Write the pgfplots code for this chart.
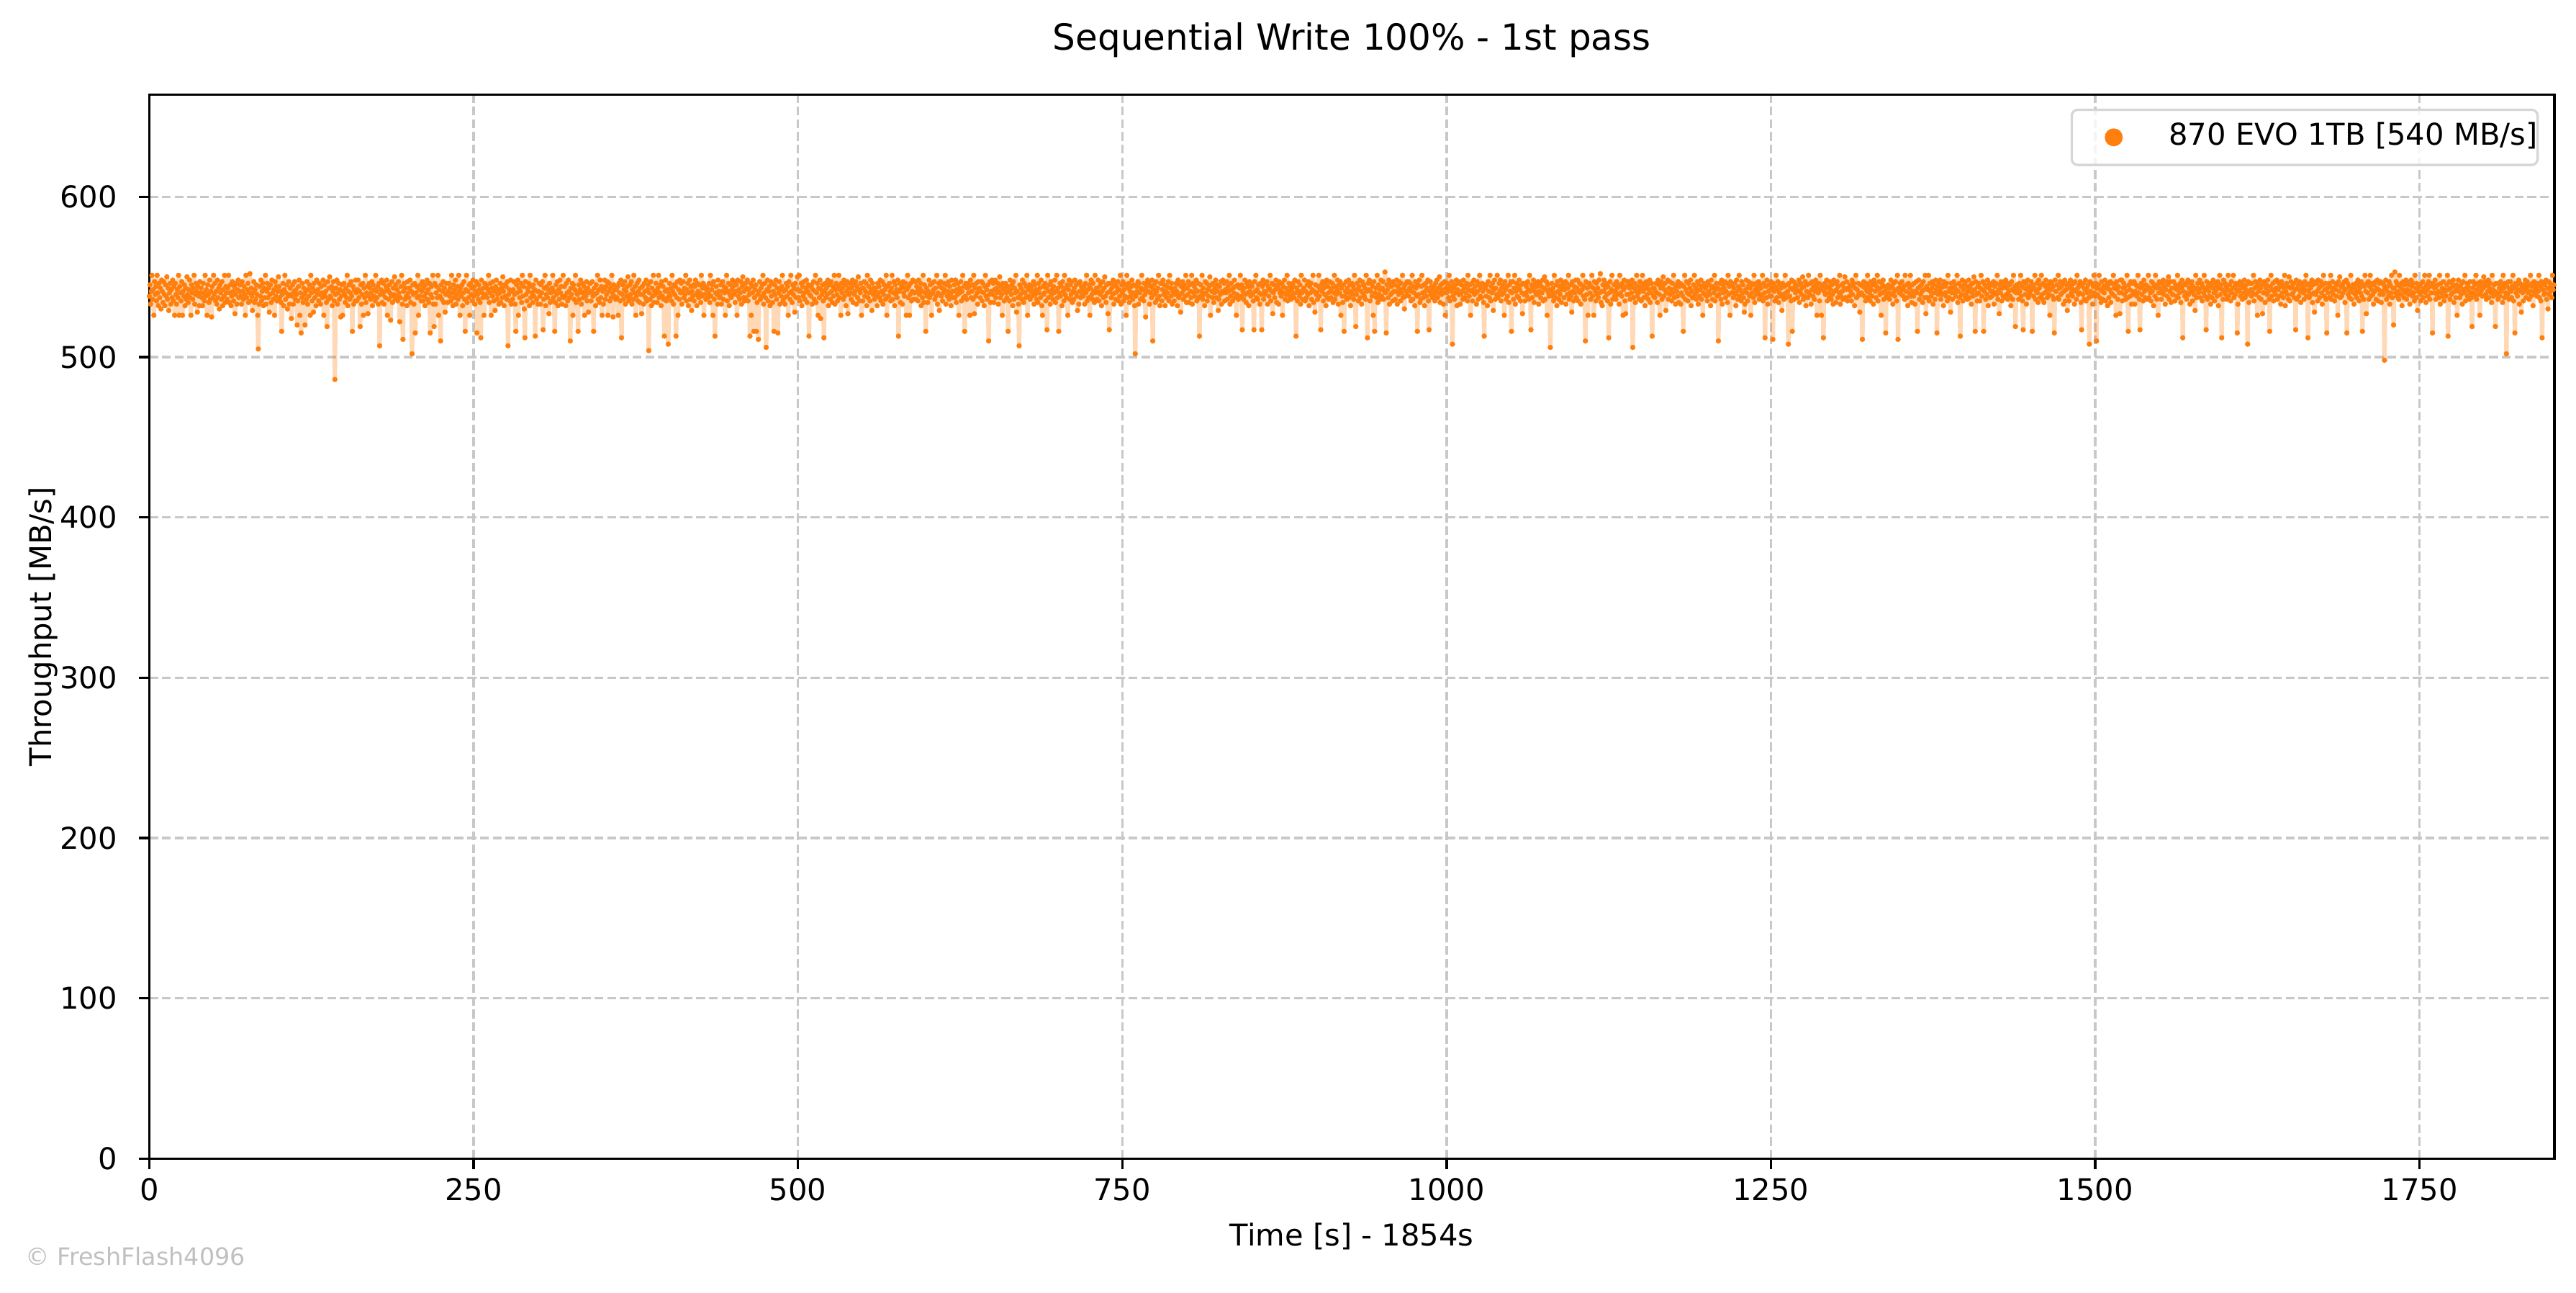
\documentclass[border=0pt]{standalone}
\usepackage{fontspec}
\setmainfont{DejaVu Sans}
\usepackage{pgfplots}
\usepackage{pgfplotstable}
\pgfplotsset{compat=1.18}
\definecolor{mplorange}{HTML}{FF7F0E}
\definecolor{gridgray}{HTML}{C8C8C8}
\definecolor{legedge}{HTML}{D6D6D6}
\definecolor{wmgray}{HTML}{C0C0C0}
\pgfplotstableread[header=false,row sep=\\]{
538\\545\\533\\541\\551\\536\\542\\526\\547\\539\\544\\535\\551\\540\\532\\546\\537\\543\\530\\548\\
541\\534\\547\\539\\532\\545\\538\\550\\536\\543\\529\\540\\546\\533\\542\\537\\548\\535\\544\\526\\
546\\539\\533\\542\\537\\551\\526\\544\\540\\535\\547\\526\\541\\538\\545\\532\\543\\536\\550\\539\\
534\\542\\548\\537\\526\\545\\540\\536\\543\\551\\533\\539\\546\\541\\528\\544\\538\\532\\547\\540\\
543\\537\\532\\546\\540\\535\\551\\538\\542\\526\\545\\539\\534\\548\\536\\541\\525\\544\\537\\551\\
539\\546\\535\\541\\533\\548\\537\\543\\530\\545\\540\\536\\547\\532\\542\\538\\551\\534\\544\\540\\
536\\543\\551\\534\\540\\545\\532\\538\\547\\541\\535\\544\\527\\539\\546\\533\\542\\548\\537\\541\\
545\\538\\533\\547\\541\\536\\544\\539\\526\\551\\537\\542\\546\\534\\540\\552\\535\\543\\538\\529\\
540\\547\\534\\542\\536\\545\\539\\526\\505\\533\\544\\538\\548\\535\\541\\546\\532\\543\\537\\551\\
533\\541\\546\\537\\543\\528\\539\\545\\534\\548\\540\\536\\542\\526\\547\\538\\544\\535\\541\\550\\
544\\537\\541\\534\\516\\539\\546\\532\\542\\551\\536\\540\\545\\530\\538\\547\\533\\543\\539\\524\\
538\\545\\533\\541\\547\\536\\542\\539\\520\\535\\544\\548\\526\\540\\515\\537\\546\\534\\543\\539\\
520\\541\\536\\547\\533\\542\\538\\545\\526\\551\\540\\535\\543\\528\\546\\537\\541\\532\\548\\539\\
542\\535\\546\\539\\533\\544\\540\\537\\548\\526\\545\\538\\541\\534\\519\\547\\536\\543\\550\\538\\
537\\544\\532\\541\\547\\535\\486\\539\\543\\548\\533\\540\\546\\536\\542\\525\\538\\545\\526\\541\\
546\\539\\534\\543\\537\\551\\532\\541\\545\\536\\540\\547\\538\\516\\544\\533\\542\\535\\548\\540\\
535\\542\\548\\537\\541\\519\\545\\533\\539\\546\\526\\543\\537\\551\\534\\540\\544\\527\\538\\546\\
543\\536\\540\\547\\532\\545\\538\\542\\535\\551\\541\\537\\544\\533\\546\\507\\539\\542\\548\\534\\
539\\546\\533\\541\\537\\544\\548\\526\\542\\536\\545\\540\\523\\538\\547\\534\\543\\539\\550\\536\\
545\\538\\542\\535\\547\\540\\522\\537\\544\\551\\533\\511\\541\\546\\536\\543\\538\\532\\547\\540\\
537\\543\\548\\534\\541\\502\\545\\539\\533\\546\\515\\540\\544\\537\\551\\526\\542\\538\\545\\535\\
541\\547\\535\\543\\538\\532\\545\\540\\548\\536\\542\\534\\546\\515\\539\\544\\537\\551\\533\\519\\
546\\533\\540\\544\\537\\551\\526\\542\\538\\510\\545\\536\\541\\547\\534\\543\\528\\539\\546\\540\\
534\\541\\546\\538\\543\\535\\551\\540\\532\\545\\537\\542\\548\\533\\539\\544\\536\\551\\541\\526\\
543\\538\\545\\532\\540\\547\\536\\516\\542\\551\\534\\541\\537\\545\\526\\546\\539\\543\\535\\548\\
538\\544\\533\\541\\547\\515\\539\\536\\545\\542\\534\\512\\548\\540\\537\\543\\526\\546\\539\\544\\
545\\537\\542\\551\\534\\540\\546\\526\\543\\538\\547\\535\\541\\529\\544\\548\\536\\539\\542\\533\\
540\\546\\534\\543\\537\\550\\541\\532\\545\\538\\544\\536\\547\\507\\539\\542\\535\\548\\533\\541\\
536\\542\\547\\539\\533\\516\\545\\540\\548\\526\\543\\537\\541\\546\\534\\551\\538\\544\\530\\512\\
547\\539\\535\\543\\541\\546\\532\\551\\537\\544\\540\\534\\545\\538\\542\\513\\548\\536\\541\\533\\
541\\546\\538\\533\\545\\540\\547\\517\\536\\543\\551\\532\\539\\544\\537\\542\\527\\546\\534\\540\\
535\\543\\551\\537\\541\\516\\534\\545\\539\\547\\532\\542\\536\\548\\540\\544\\533\\538\\551\\537\\
544\\538\\532\\546\\540\\535\\548\\541\\537\\510\\543\\539\\546\\526\\545\\536\\542\\551\\534\\540\\
539\\516\\545\\536\\542\\548\\533\\540\\546\\537\\544\\526\\541\\538\\547\\535\\543\\528\\540\\546\\
546\\535\\541\\547\\538\\516\\543\\539\\532\\545\\540\\551\\536\\542\\534\\548\\537\\544\\526\\541\\
533\\542\\548\\536\\544\\539\\547\\526\\541\\546\\535\\543\\537\\551\\540\\525\\545\\538\\542\\536\\
542\\537\\544\\526\\546\\540\\535\\548\\512\\539\\545\\536\\542\\547\\533\\541\\538\\544\\550\\535\\
537\\545\\539\\547\\533\\542\\536\\551\\540\\544\\526\\538\\546\\535\\541\\548\\534\\543\\539\\527\\
544\\539\\533\\546\\541\\537\\548\\535\\542\\545\\504\\540\\536\\547\\532\\543\\538\\551\\534\\541\\
539\\546\\541\\534\\543\\551\\537\\540\\545\\532\\547\\538\\544\\536\\513\\541\\548\\535\\542\\537\\
508\\540\\546\\538\\543\\535\\551\\541\\533\\545\\539\\544\\513\\537\\547\\526\\542\\536\\548\\540\\
546\\533\\541\\547\\537\\543\\539\\551\\535\\542\\546\\532\\540\\548\\536\\544\\529\\541\\538\\545\\
535\\544\\548\\539\\532\\546\\541\\537\\545\\540\\534\\551\\538\\543\\546\\526\\539\\544\\536\\542\\
543\\537\\540\\546\\534\\551\\538\\542\\545\\526\\547\\536\\513\\540\\544\\539\\533\\548\\541\\537\\
538\\545\\533\\541\\547\\536\\544\\540\\526\\543\\551\\535\\541\\546\\532\\539\\545\\537\\542\\548\\
544\\539\\547\\534\\541\\545\\526\\548\\538\\542\\536\\540\\547\\533\\544\\550\\537\\541\\535\\546\\
537\\543\\548\\535\\542\\539\\513\\546\\526\\544\\540\\548\\516\\537\\542\\545\\516\\534\\539\\511\\
541\\547\\536\\543\\538\\545\\551\\533\\540\\546\\537\\506\\542\\548\\535\\541\\544\\532\\547\\538\\
546\\534\\541\\516\\545\\539\\548\\536\\543\\515\\540\\547\\533\\542\\538\\544\\551\\535\\541\\537\\
533\\542\\546\\538\\544\\526\\547\\540\\536\\551\\541\\534\\545\\539\\543\\528\\546\\537\\542\\550\\
542\\537\\551\\535\\541\\546\\532\\544\\538\\547\\540\\536\\543\\548\\534\\541\\545\\513\\539\\544\\
538\\545\\533\\542\\547\\536\\541\\551\\534\\540\\546\\526\\543\\537\\548\\524\\542\\539\\545\\535\\
512\\541\\546\\537\\543\\539\\548\\532\\545\\540\\536\\547\\541\\534\\544\\538\\551\\533\\542\\546\\
539\\535\\544\\551\\537\\542\\526\\546\\540\\543\\536\\548\\538\\545\\532\\541\\547\\527\\543\\539\\
546\\540\\536\\543\\548\\534\\545\\539\\541\\547\\533\\544\\537\\550\\542\\535\\540\\546\\526\\543\\
535\\543\\547\\538\\541\\546\\532\\551\\537\\544\\540\\535\\548\\542\\529\\546\\539\\543\\536\\541\\
543\\538\\532\\546\\540\\544\\537\\548\\535\\541\\547\\533\\539\\545\\542\\536\\551\\526\\544\\538\\
538\\546\\541\\535\\543\\551\\536\\540\\547\\532\\545\\539\\542\\537\\548\\513\\541\\546\\534\\543\\
545\\533\\547\\540\\538\\543\\546\\526\\542\\551\\537\\544\\526\\539\\546\\535\\541\\548\\536\\540\\
540\\547\\536\\544\\541\\535\\548\\539\\543\\546\\532\\541\\537\\551\\534\\545\\540\\516\\543\\538\\
534\\541\\548\\537\\545\\539\\526\\546\\540\\542\\547\\536\\543\\538\\551\\533\\540\\546\\529\\544\\
547\\538\\543\\535\\540\\546\\542\\551\\533\\545\\538\\541\\547\\536\\544\\539\\532\\548\\541\\537\\
541\\545\\537\\548\\534\\542\\539\\546\\526\\543\\540\\547\\535\\541\\551\\537\\544\\516\\538\\546\\
536\\543\\546\\540\\544\\526\\548\\537\\541\\545\\536\\551\\527\\543\\538\\546\\540\\533\\547\\542\\
543\\537\\541\\547\\535\\546\\540\\532\\544\\551\\538\\542\\536\\545\\510\\539\\547\\534\\541\\548\\
539\\546\\534\\542\\548\\537\\543\\540\\546\\533\\541\\550\\537\\544\\539\\526\\546\\542\\535\\543\\
546\\540\\537\\544\\516\\541\\535\\548\\542\\539\\545\\532\\547\\536\\543\\540\\551\\528\\541\\537\\
533\\507\\545\\539\\543\\536\\548\\541\\534\\546\\540\\537\\544\\551\\526\\542\\538\\545\\536\\541\\
544\\538\\541\\547\\533\\545\\539\\542\\536\\551\\534\\546\\540\\543\\537\\548\\532\\526\\544\\539\\
540\\546\\535\\543\\517\\551\\537\\541\\545\\533\\547\\539\\542\\536\\544\\540\\548\\534\\541\\551\\
537\\543\\516\\540\\546\\538\\544\\532\\547\\541\\535\\551\\539\\543\\537\\545\\526\\542\\548\\536\\
545\\539\\547\\534\\541\\536\\543\\548\\540\\545\\538\\529\\546\\533\\541\\547\\537\\544\\539\\542\\
538\\544\\533\\546\\540\\551\\535\\542\\537\\545\\526\\543\\548\\539\\536\\546\\541\\534\\551\\540\\
543\\536\\541\\548\\535\\544\\539\\546\\532\\541\\547\\537\\543\\550\\538\\534\\545\\540\\527\\546\\
517\\541\\546\\537\\543\\539\\548\\533\\545\\540\\536\\544\\541\\547\\535\\542\\538\\551\\533\\545\\
540\\547\\535\\542\\538\\545\\526\\551\\537\\543\\546\\534\\541\\538\\544\\548\\536\\540\\545\\532\\
502\\538\\544\\541\\547\\533\\546\\540\\536\\543\\551\\537\\542\\535\\546\\539\\525\\544\\541\\548\\
541\\546\\533\\540\\544\\537\\548\\510\\542\\545\\539\\534\\547\\541\\536\\543\\551\\538\\532\\546\\
546\\535\\542\\548\\539\\545\\532\\541\\537\\544\\540\\547\\535\\551\\543\\538\\546\\533\\541\\539\\
535\\543\\539\\546\\541\\532\\548\\537\\545\\539\\528\\544\\540\\547\\536\\542\\545\\538\\551\\534\\
543\\539\\547\\534\\545\\541\\537\\551\\533\\546\\540\\544\\538\\542\\548\\535\\541\\546\\537\\513\\
538\\545\\541\\551\\536\\543\\539\\532\\547\\540\\546\\535\\542\\538\\544\\550\\526\\545\\541\\537\\
546\\534\\540\\543\\548\\537\\545\\541\\529\\536\\544\\539\\547\\533\\541\\548\\540\\546\\535\\542\\
540\\547\\536\\544\\541\\551\\533\\538\\546\\542\\535\\543\\540\\548\\537\\544\\526\\539\\545\\536\\
537\\543\\551\\538\\545\\517\\541\\536\\543\\548\\539\\534\\546\\540\\544\\532\\547\\541\\538\\545\\
544\\539\\535\\517\\547\\541\\551\\537\\542\\536\\545\\540\\533\\546\\539\\517\\544\\548\\536\\541\\
539\\546\\541\\547\\533\\544\\538\\543\\551\\535\\541\\546\\527\\540\\545\\537\\542\\548\\534\\543\\
545\\533\\547\\540\\542\\538\\546\\526\\544\\540\\548\\536\\543\\539\\551\\535\\541\\546\\538\\544\\
536\\542\\539\\546\\544\\537\\548\\540\\513\\543\\535\\547\\541\\538\\545\\533\\551\\540\\536\\542\\
543\\548\\535\\541\\537\\545\\539\\547\\532\\544\\540\\546\\536\\542\\551\\534\\541\\528\\545\\539\\
540\\536\\544\\551\\538\\542\\517\\545\\541\\547\\535\\543\\539\\546\\532\\548\\537\\544\\540\\536\\
547\\541\\537\\543\\546\\534\\540\\551\\536\\544\\539\\542\\548\\533\\545\\540\\547\\526\\543\\538\\
534\\545\\516\\538\\541\\547\\536\\543\\540\\548\\537\\545\\532\\541\\546\\539\\544\\536\\551\\542\\
519\\539\\546\\542\\535\\544\\548\\537\\541\\533\\547\\540\\545\\538\\543\\536\\551\\541\\512\\546\\
542\\548\\535\\541\\546\\538\\544\\526\\547\\516\\540\\543\\537\\551\\534\\545\\539\\542\\536\\548\\
538\\543\\547\\536\\541\\553\\540\\515\\545\\542\\537\\548\\533\\546\\539\\544\\540\\535\\547\\541\\
545\\536\\541\\548\\533\\544\\539\\547\\542\\535\\546\\540\\551\\537\\543\\530\\545\\538\\541\\547\\
541\\547\\538\\543\\546\\535\\541\\551\\536\\544\\540\\532\\547\\543\\538\\516\\545\\539\\548\\534\\
536\\544\\551\\540\\537\\545\\532\\541\\546\\538\\543\\548\\535\\517\\541\\547\\539\\544\\537\\542\\
544\\539\\535\\546\\541\\548\\537\\543\\540\\550\\534\\545\\539\\542\\546\\533\\540\\547\\526\\543\\
540\\546\\542\\537\\551\\535\\544\\541\\547\\508\\538\\543\\536\\545\\540\\548\\532\\542\\546\\539\\
547\\533\\539\\545\\541\\536\\548\\543\\537\\544\\540\\546\\535\\551\\542\\538\\545\\526\\541\\546\\
535\\542\\548\\539\\544\\540\\533\\547\\541\\536\\545\\551\\538\\543\\537\\546\\541\\534\\513\\545\\
543\\538\\545\\532\\547\\541\\537\\551\\535\\544\\540\\546\\529\\542\\548\\536\\543\\539\\551\\537\\
538\\546\\541\\548\\535\\543\\539\\545\\540\\526\\547\\542\\536\\544\\538\\551\\534\\545\\541\\547\\
516\\540\\547\\536\\543\\551\\533\\541\\546\\538\\544\\537\\548\\542\\535\\545\\540\\527\\546\\539\\
546\\535\\540\\544\\538\\547\\542\\536\\551\\541\\517\\545\\537\\543\\548\\534\\541\\546\\539\\544\\
539\\547\\533\\541\\546\\537\\544\\540\\548\\535\\543\\550\\536\\542\\547\\526\\545\\540\\538\\542\\
506\\541\\546\\538\\543\\535\\551\\540\\537\\545\\532\\547\\541\\536\\544\\539\\548\\534\\542\\546\\
544\\537\\542\\547\\533\\546\\539\\543\\551\\536\\540\\545\\538\\528\\547\\541\\535\\544\\540\\548\\
537\\543\\548\\535\\541\\546\\540\\533\\545\\542\\551\\538\\544\\536\\510\\547\\539\\543\\526\\546\\
546\\540\\536\\544\\551\\538\\543\\526\\547\\541\\535\\546\\539\\543\\537\\548\\540\\552\\534\\541\\
532\\545\\541\\548\\537\\543\\546\\539\\535\\544\\512\\540\\547\\533\\542\\551\\536\\541\\545\\538\\
541\\536\\547\\543\\539\\545\\533\\551\\540\\544\\538\\546\\526\\542\\548\\535\\527\\544\\539\\547\\
547\\539\\543\\536\\545\\540\\548\\506\\537\\543\\546\\534\\541\\551\\538\\544\\540\\536\\547\\542\\
535\\544\\551\\541\\537\\546\\532\\543\\547\\539\\545\\536\\542\\548\\534\\540\\546\\513\\543\\538\\
543\\537\\541\\546\\540\\534\\548\\545\\539\\526\\543\\547\\536\\544\\550\\538\\542\\546\\529\\540\\
540\\548\\536\\543\\547\\539\\542\\535\\546\\540\\551\\537\\543\\533\\545\\541\\538\\547\\534\\544\\
546\\533\\540\\545\\538\\516\\544\\551\\536\\542\\547\\540\\535\\546\\539\\543\\548\\532\\541\\537\\
537\\545\\551\\539\\543\\536\\541\\547\\533\\545\\538\\542\\548\\536\\544\\526\\540\\546\\539\\543\\
544\\538\\535\\547\\541\\545\\539\\532\\548\\543\\536\\544\\540\\551\\535\\542\\546\\538\\543\\510\\
539\\546\\542\\536\\548\\533\\545\\540\\543\\547\\537\\541\\546\\534\\551\\539\\544\\526\\547\\540\\
545\\540\\537\\543\\546\\539\\532\\548\\541\\536\\544\\551\\538\\542\\535\\547\\540\\545\\537\\528\\
533\\542\\548\\540\\535\\544\\547\\538\\543\\526\\546\\540\\545\\537\\551\\534\\542\\546\\539\\544\\
541\\547\\536\\545\\539\\543\\538\\551\\535\\546\\540\\512\\544\\537\\548\\533\\541\\545\\538\\542\\
547\\538\\543\\511\\546\\541\\535\\544\\551\\537\\542\\547\\534\\540\\545\\538\\543\\529\\546\\539\\
536\\544\\551\\540\\537\\545\\541\\508\\546\\538\\543\\535\\548\\516\\542\\547\\536\\544\\540\\545\\
542\\537\\545\\548\\534\\541\\546\\539\\543\\550\\536\\544\\538\\547\\532\\541\\545\\537\\551\\540\\
539\\546\\533\\542\\547\\538\\544\\536\\541\\548\\545\\526\\543\\540\\546\\535\\551\\542\\526\\544\\
545\\512\\541\\546\\539\\543\\548\\535\\544\\540\\537\\547\\542\\536\\545\\539\\533\\548\\541\\546\\
534\\542\\547\\537\\544\\540\\551\\533\\538\\545\\541\\536\\546\\543\\550\\537\\542\\547\\535\\543\\
543\\538\\545\\541\\535\\548\\539\\544\\546\\532\\543\\551\\537\\542\\538\\546\\540\\528\\545\\539\\
540\\511\\544\\547\\538\\543\\535\\546\\541\\551\\537\\544\\540\\535\\547\\542\\538\\545\\533\\548\\
546\\541\\537\\544\\551\\535\\542\\547\\539\\543\\526\\546\\540\\548\\536\\544\\541\\515\\538\\543\\
537\\545\\540\\536\\543\\548\\539\\544\\533\\546\\541\\538\\547\\542\\535\\551\\511\\543\\540\\546\\
543\\539\\547\\542\\538\\544\\536\\551\\541\\545\\537\\532\\546\\540\\543\\551\\538\\534\\545\\541\\
538\\546\\533\\541\\547\\540\\516\\543\\548\\536\\544\\539\\545\\541\\534\\547\\542\\537\\551\\527\\
544\\537\\542\\551\\535\\546\\541\\538\\543\\547\\533\\545\\540\\536\\548\\542\\515\\544\\539\\546\\
541\\548\\536\\543\\539\\545\\532\\547\\540\\544\\538\\546\\535\\551\\541\\537\\543\\528\\546\\540\\
536\\543\\547\\540\\545\\538\\542\\551\\534\\541\\546\\537\\513\\544\\539\\548\\535\\542\\545\\538\\
547\\539\\544\\536\\541\\548\\537\\543\\545\\533\\540\\546\\538\\550\\542\\516\\547\\539\\535\\544\\
540\\546\\535\\543\\551\\538\\542\\547\\516\\541\\545\\536\\544\\539\\548\\532\\543\\546\\537\\541\\
545\\538\\541\\547\\533\\544\\540\\546\\539\\551\\536\\542\\527\\545\\540\\547\\535\\543\\538\\546\\
537\\544\\548\\539\\543\\536\\546\\541\\545\\538\\532\\547\\542\\536\\551\\541\\544\\519\\540\\545\\
543\\540\\536\\546\\541\\551\\538\\544\\535\\517\\547\\543\\539\\546\\533\\542\\548\\537\\544\\540\\
539\\547\\542\\516\\545\\538\\543\\551\\536\\541\\546\\540\\534\\548\\543\\537\\545\\551\\539\\536\\
546\\534\\540\\544\\548\\541\\537\\545\\543\\539\\526\\547\\542\\546\\538\\544\\536\\515\\548\\541\\
541\\545\\537\\551\\536\\543\\547\\539\\544\\540\\546\\533\\541\\548\\535\\542\\545\\529\\538\\546\\
535\\543\\548\\540\\545\\538\\542\\546\\533\\547\\541\\536\\551\\543\\539\\545\\540\\547\\534\\517\\
544\\539\\546\\536\\542\\548\\535\\543\\540\\545\\537\\508\\547\\541\\538\\546\\533\\544\\551\\540\\
538\\546\\510\\543\\539\\545\\551\\537\\542\\534\\547\\541\\536\\544\\540\\548\\535\\543\\546\\532\\
545\\537\\542\\547\\534\\540\\546\\539\\551\\543\\538\\545\\526\\547\\542\\536\\544\\540\\527\\548\\
540\\548\\535\\543\\546\\539\\544\\536\\541\\551\\537\\516\\545\\542\\538\\547\\533\\541\\546\\539\\
547\\533\\541\\545\\538\\544\\551\\540\\536\\517\\543\\546\\539\\544\\535\\548\\541\\537\\545\\542\\
536\\544\\551\\537\\543\\540\\535\\547\\541\\546\\532\\544\\538\\551\\543\\536\\545\\526\\540\\547\\
543\\540\\536\\546\\541\\548\\539\\544\\533\\542\\547\\538\\545\\550\\536\\541\\547\\534\\543\\539\\
539\\547\\543\\535\\545\\538\\542\\551\\537\\544\\540\\546\\534\\543\\548\\512\\541\\545\\538\\546\\
545\\536\\540\\548\\539\\543\\533\\546\\541\\547\\535\\544\\539\\542\\529\\551\\537\\543\\546\\540\\
541\\548\\537\\543\\546\\535\\544\\540\\551\\538\\542\\517\\547\\536\\544\\541\\538\\546\\533\\545\\
537\\543\\548\\540\\535\\546\\541\\544\\538\\547\\532\\543\\551\\539\\545\\512\\542\\536\\548\\541\\
546\\539\\544\\536\\542\\551\\538\\545\\541\\535\\547\\540\\543\\551\\537\\544\\539\\546\\542\\515\\
533\\545\\541\\547\\538\\543\\546\\536\\544\\540\\548\\537\\542\\545\\539\\508\\547\\534\\541\\546\\
542\\538\\546\\540\\551\\535\\543\\547\\539\\544\\526\\546\\541\\537\\548\\543\\536\\545\\527\\540\\
540\\547\\534\\543\\545\\539\\548\\541\\536\\516\\544\\551\\538\\542\\546\\535\\541\\547\\539\\543\\
548\\536\\542\\546\\538\\544\\533\\547\\540\\545\\537\\543\\551\\532\\541\\546\\539\\544\\536\\550\\
535\\543\\547\\539\\544\\540\\546\\537\\542\\517\\548\\536\\543\\545\\538\\547\\541\\534\\546\\542\\
544\\540\\536\\547\\542\\551\\538\\545\\512\\541\\537\\546\\543\\539\\548\\534\\545\\540\\528\\547\\
539\\546\\541\\535\\548\\543\\537\\544\\547\\540\\533\\545\\551\\538\\542\\546\\536\\515\\543\\540\\
546\\537\\544\\551\\536\\541\\547\\539\\543\\535\\546\\542\\538\\545\\526\\547\\541\\550\\537\\544\\
538\\545\\540\\543\\547\\534\\542\\548\\515\\546\\539\\544\\537\\541\\551\\536\\543\\545\\540\\533\\
543\\539\\546\\537\\541\\548\\545\\535\\543\\540\\547\\538\\516\\545\\536\\544\\551\\541\\527\\546\\
540\\547\\536\\544\\551\\538\\542\\546\\539\\533\\545\\541\\547\\536\\543\\548\\535\\542\\546\\539\\
547\\534\\541\\546\\539\\545\\498\\543\\548\\536\\541\\544\\538\\547\\533\\545\\540\\551\\537\\543\\
520\\543\\553\\540\\547\\538\\545\\541\\536\\551\\544\\539\\546\\532\\542\\547\\537\\545\\540\\548\\
536\\542\\547\\539\\545\\533\\541\\548\\544\\538\\546\\540\\535\\551\\543\\537\\546\\529\\541\\545\\
544\\539\\535\\546\\541\\547\\537\\543\\551\\540\\534\\545\\542\\538\\547\\551\\536\\544\\540\\546\\
515\\546\\540\\543\\548\\536\\544\\539\\545\\541\\537\\551\\533\\546\\540\\543\\538\\547\\535\\542\\
541\\538\\545\\551\\513\\542\\547\\536\\543\\539\\546\\540\\548\\534\\544\\541\\537\\545\\526\\543\\
548\\541\\537\\544\\539\\546\\533\\547\\542\\540\\551\\535\\543\\546\\538\\544\\541\\536\\547\\540\\
537\\519\\543\\547\\540\\545\\538\\551\\536\\542\\546\\539\\544\\526\\547\\541\\545\\538\\543\\550\\
544\\547\\539\\536\\545\\541\\548\\537\\543\\546\\540\\534\\551\\542\\538\\545\\541\\519\\546\\539\\
540\\536\\546\\543\\538\\547\\541\\545\\534\\551\\543\\537\\546\\540\\502\\544\\539\\547\\536\\542\\
547\\541\\537\\544\\551\\535\\543\\515\\546\\540\\545\\538\\542\\548\\533\\546\\541\\528\\544\\540\\
535\\545\\542\\548\\537\\543\\547\\540\\545\\536\\541\\551\\538\\544\\546\\532\\541\\547\\539\\545\\
543\\538\\546\\541\\551\\537\\544\\535\\547\\512\\542\\546\\539\\545\\540\\548\\536\\543\\530\\547\\
539\\546\\541\\544\\537\\551\\542\\545\\
}\datatable
\begin{document}
\begin{tikzpicture}
\path[use as bounding box] (-49.8pt,-44.8pt) rectangle (809.16pt,386.2pt);
\begin{axis}[
  at={(0pt,0pt)}, anchor=south west,
  scale only axis, width=801.96pt, height=354.6pt,
  xmin=0, xmax=1854, ymin=0, ymax=663.6,
  xtick={0,250,...,1750}, ytick={0,100,...,600},
  tick align=outside, xtick pos=bottom, ytick pos=left,
  major tick length=3.5pt,
  every tick/.style={black, line width=0.8pt},
  axis line style={black, line width=0.8pt},
  grid=major,
  major grid style={gridgray, line width=0.8pt, dash pattern=on 2.96pt off 1.28pt},
  /pgf/number format/assume math mode=true,
  /pgf/number format/1000 sep={},
  tick label style={font=\fontsize{10}{12}\selectfont},
  xticklabel style={anchor=base, inner sep=0pt, yshift=-10.4pt},
  yticklabel style={anchor=east, inner sep=0pt, xshift=-7pt},
  legend style={at={(1,1)}, anchor=north east, xshift=-5.2pt, yshift=-4.6pt,
    draw=legedge, line width=0.8pt, rounded corners=2pt, inner sep=0pt,
    fill=white, fill opacity=0.8, draw opacity=1, text opacity=1,
    /tikz/every even column/.append style={column sep=0pt},
    nodes={inner xsep=0pt, inner ysep=4.2pt, text height=7.6pt, text depth=2.4pt, anchor=base},
    font=\fontsize{10}{12}\selectfont},
  legend image code/.code={\path[draw=none,fill=none] (0pt,0pt) rectangle (32.4pt,0pt); \fill[mplorange, fill opacity=1, draw=none] (14pt,2.6pt) circle (3pt);},
]
\addplot[forget plot, draw=mplorange, draw opacity=0.3, line width=1.5pt, line join=round, line cap=round, no markers]
  table[x expr=\coordindex*0.5, y index=0] {\datatable};
\addplot[only marks, color=mplorange, mark=*, mark size=0.82pt, mark options={draw=mplorange, fill=mplorange, line width=0.1pt, solid}]
  table[x expr=\coordindex*0.5, y index=0] {\datatable};
\addlegendentry{870 EVO 1TB [540 MB/s]\hspace{4.8pt}}
\end{axis}
\node[anchor=base, font=\fontsize{12}{14.4}\selectfont] at (400.98pt,369.5pt) {Sequential Write 100\% - 1st pass};
\node[anchor=base, font=\fontsize{10}{12}\selectfont] at (400.98pt,-29pt) {Time [s] - 1854s};
\node[rotate=90, anchor=base, font=\fontsize{10}{12}\selectfont] at (-32.6pt,177.3pt) {Throughput [MB/s]};
\node[anchor=base west, inner sep=0pt, text=wmgray, font=\fontsize{8}{9.6}\selectfont] at (-41.4pt,-35.7pt) {© FreshFlash4096};
\end{tikzpicture}
\end{document}
